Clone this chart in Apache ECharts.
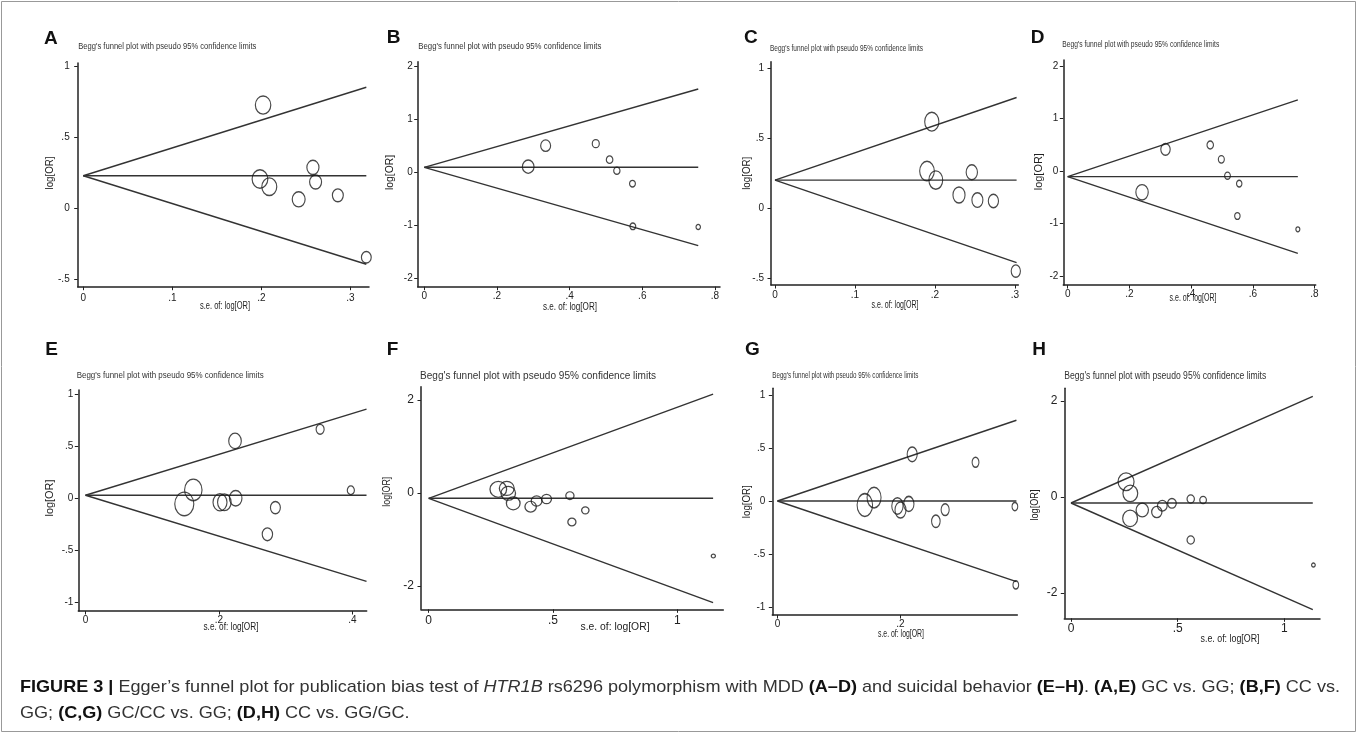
<!DOCTYPE html>
<html><head><meta charset="utf-8">
<script src="https://cdn.jsdelivr.net/npm/echarts/dist/echarts.min.js"></script>
<style>html,body{margin:0;padding:0;background:#fff}#c{width:1358px;height:734px}</style>
</head><body><div id="c"></div>
<script>
// ---------- DATA ----------
const panelLetters = ['A','B','C','D','E','F','G','H'];
// s.e. of log[OR] (x) and log[OR] (y) for each study, per panel
const seA  = [0.202, 0.1985, 0.209, 0.258, 0.261, 0.242, 0.286, 0.318];
const lorA = [0.725, 0.204, 0.150, 0.286, 0.183, 0.061, 0.089, -0.347];
const seB  = [0.286, 0.334, 0.472, 0.510, 0.530, 0.573, 0.574, 0.754];
const lorB = [0.107, 0.503, 0.541, 0.239, 0.031, -0.214, -1.019, -1.031];
const seC  = [0.196, 0.190, 0.201, 0.246, 0.230, 0.253, 0.273, 0.301];
const lorC = [0.619, 0.265, 0.200, 0.256, 0.093, 0.057, 0.050, -0.452];
const seD  = [0.317, 0.241, 0.462, 0.498, 0.518, 0.556, 0.550, 0.746];
const lorD = [0.413, -0.406, 0.495, 0.222, -0.089, -0.241, -0.857, -1.111];
const seE  = [0.224, 0.3515, 0.3975, 0.148, 0.1615, 0.2015, 0.208, 0.225, 0.2845, 0.2725];
const lorE = [0.550, 0.661, 0.077, -0.054, 0.080, -0.038, -0.038, 0.000, -0.089, -0.345];
const seF  = [0.280, 0.314, 0.320, 0.340, 0.410, 0.434, 0.474, 0.568, 0.576, 0.630, 1.145];
const lorF = [0.079, 0.100, -0.007, -0.222, -0.294, -0.172, -0.129, -0.057, -0.624, -0.373, -1.355];
const seG  = [0.219, 0.322, 0.386, 0.3875, 0.142, 0.157, 0.195, 0.200, 0.2135, 0.2726, 0.2575];
const lorG = [0.443, 0.368, -0.050, -0.789, -0.035, 0.035, -0.044, -0.082, -0.025, -0.079, -0.189];
const seH  = [0.258, 0.278, 0.277, 0.334, 0.402, 0.428, 0.473, 0.561, 0.619, 0.561, 1.136];
const lorH = [0.319, 0.076, -0.444, -0.271, -0.3125, -0.181, -0.132, -0.042, -0.0625, -0.896, -1.417];
// pooled log[OR] (horizontal line) and the s.e. where the funnel lines end
const pooledLogOR = [0.227, 0.094, 0.200, -0.108, 0.029, -0.114, 0.003, -0.125];
const funnelEndSe = [0.318, 0.754, 0.302, 0.746, 0.421, 1.144, 0.3885, 1.133];
// tick values
const xTicksA = [0, 0.1, 0.2, 0.3],   yTicksA = [-0.5, 0, 0.5, 1];
const xTicksB = [0, 0.2, 0.4, 0.6, 0.8], yTicksB = [-2, -1, 0, 1, 2];
const xTicksC = [0, 0.1, 0.2, 0.3],   yTicksC = [-0.5, 0, 0.5, 1];
const xTicksD = [0, 0.2, 0.4, 0.6, 0.8], yTicksD = [-2, -1, 0, 1, 2];
const xTicksE = [0, 0.2, 0.4],        yTicksE = [-1, -0.5, 0, 0.5, 1];
const xTicksF = [0, 0.5, 1],          yTicksF = [-2, 0, 2];
const xTicksG = [0, 0.2],             yTicksG = [-1, -0.5, 0, 0.5, 1];
const xTicksH = [0, 0.5, 1],          yTicksH = [-2, 0, 2];
// texts
const panelTitle = "Begg's funnel plot with pseudo 95% confidence limits";
const xAxisTitle = "s.e. of: log[OR]";
const yAxisTitle = "log[OR]";
const captionLine1 = [
  ['b', 'FIGURE 3 | '], ['r', "Egger\u2019s funnel plot for publication bias test of "], ['i', 'HTR1B'],
  ['r', ' rs6296 polymorphism with MDD '], ['b', '(A\u2013D)'], ['r', ' and suicidal behavior '], ['b', '(E\u2013H)'],
  ['r', '. '], ['b', '(A,E)'], ['r', ' GC vs. GG; '], ['b', '(B,F)'], ['r', ' CC vs.']
];
const captionLine2 = [
  ['r', 'GG; '], ['b', '(C,G)'], ['r', ' GC/CC vs. GG; '], ['b', '(D,H)'], ['r', ' CC vs. GG/GC.']
];

const seAll  = [seA, seB, seC, seD, seE, seF, seG, seH];
const lorAll = [lorA, lorB, lorC, lorD, lorE, lorF, lorG, lorH];
const xTicksAll = [xTicksA, xTicksB, xTicksC, xTicksD, xTicksE, xTicksF, xTicksG, xTicksH];
const yTicksAll = [yTicksA, yTicksB, yTicksC, yTicksD, yTicksE, yTicksF, yTicksG, yTicksH];

// ---------- LAYOUT / STYLE ----------
// plot box (L,T,R,B px), pixel of value 0 on x/y and pixels per unit
const layout = [
  {L:77.7,  T:63,    R:369,    B:286.7, x0:83.3,   xu:890,   y0:208,   yu:142},
  {L:417.7, T:61.7,  R:720,    B:286.7, x0:424.3,  xu:363.3, y0:172.3, yu:53},
  {L:771,   T:61.7,  R:1018.3, B:285,   x0:775,    xu:800,   y0:208,   yu:139.5},
  {L:1063.3,T:60,    R:1315.7, B:285,   x0:1067.7, xu:308.5, y0:171,   yu:52.5},
  {L:78.3,  T:390,   R:366.7,  B:611,   x0:85.5,   xu:667.5, y0:498.3, yu:104.4},
  {L:421,   T:386.7, R:723.3,  B:609.3, x0:428.7,  xu:248.6, y0:493,   yu:46.5},
  {L:772.3, T:388.3, R:1017.3, B:615,   x0:777.5,  xu:615,   y0:501.3, yu:106},
  {L:1064.3,T:388.3, R:1320,   B:618.3, x0:1071,   xu:213.4, y0:497,   yu:48}
];
const symK   = [1.56, 1.66, 1.39, 1.49, 1.41, 2.33, 1.10, 2.06];
const symAsp = [0.85, 0.87, 0.75, 0.80, 0.81, 1.05, 0.68, 0.90];
const tickFont = [10, 10, 10, 10, 10, 12, 10, 12];
const xLabelMargin = [6.5, 5, 5, 4.5, 4.5, 5, 4.5, 4.5];
const yLabelMargin = [8, 5, 7, 5, 5, 7, 7, 7];
const narrowPanel = [true, true, true, true, false, false, true, false];
const titlePos = [
  {x:78.3,y:46.7,w:178,s:9.5},{x:418.3,y:46.7,w:183,s:9.5},{x:770,y:48.3,w:153,s:9.5},{x:1062.3,y:44.3,w:157,s:9.5},
  {x:76.7,y:375,w:187,s:9.5},{x:420,y:375.7,w:236,s:10.5},{x:772.3,y:375.7,w:146,s:9.5},{x:1064.3,y:376.7,w:202,s:10}
];
const letterPos = [[50.8,38.3],[393.7,37.8],[750.8,37.8],[1037.5,38],[51.7,350],[392.5,350],[752.3,350],[1039,350]];
const xTitlePos = [[225,306.7,50],[570,307,54],[895,305,47],[1193,298,47],[231,627,55],[615,627,69],[901,634,46],[1230,639,59]];
const yTitlePos = [[50,173,33],[390,172.5,35],[747.3,173.3,33],[1039,171.7,37],[50.7,498,37],[387.3,491.7,30],[747.3,501.7,33],[1035,505,31]];

const SANS = "'Liberation Sans', Arial, Helvetica, sans-serif";
const NARROW = "'Liberation Sans Narrow', 'Arial Narrow', 'Liberation Sans', Arial, sans-serif";
const ELLIPSE = 'path://M0,-1C0.552,-1,1,-0.552,1,0C1,0.552,0.552,1,0,1C-0.552,1,-1,0.552,-1,0C-1,-0.552,-0.552,-1,0,-1Z';

const mctx = document.createElement('canvas').getContext('2d');
function measure(text, size, weight, style) {
  mctx.font = (style || 'normal') + ' ' + (weight || 'normal') + ' ' + size + 'px ' + SANS;
  return mctx.measureText(text).width;
}
function fitText(text, x, y, size, targetW, opt) {
  opt = opt || {};
  const w = measure(text, size, opt.weight, opt.fontStyle);
  return {
    type: 'text', x: x, y: y, rotation: opt.rotation || 0, scaleX: targetW / w, scaleY: 1, silent: true,
    style: { text: text, fontSize: size, fontFamily: SANS, fontWeight: opt.weight || 'normal',
      fontStyle: opt.fontStyle || 'normal', fill: opt.fill || '#222',
      align: opt.align || 'center', verticalAlign: 'middle', textAlign: opt.align || 'center', textVerticalAlign: 'middle' }
  };
}
const fmt = v => String(v).replace(/^(-?)0\./, '$1.');

const grids = [], xAxes = [], yAxes = [], series = [], graphics = [];
layout.forEach((g, i) => {
  grids.push({ left: g.L, top: g.T, width: g.R - g.L, height: g.B - g.T, containLabel: false });
  const fam = narrowPanel[i] ? NARROW : SANS;
  const common = (ticks, margin) => ({
    type: 'value', gridIndex: i, splitLine: { show: false },
    axisLine: { show: true, onZero: false, lineStyle: { color: '#222', width: 1.5 } },
    axisTick: { show: true, customValues: ticks, length: 3.5, lineStyle: { color: '#222', width: 1 } },
    axisLabel: { show: true, customValues: ticks, formatter: fmt, fontSize: tickFont[i], fontFamily: fam, color: '#222', margin: margin }
  });
  xAxes.push(Object.assign(common(xTicksAll[i], xLabelMargin[i]), { min: (g.L - g.x0) / g.xu, max: (g.R - g.x0) / g.xu }));
  yAxes.push(Object.assign(common(yTicksAll[i], yLabelMargin[i]), { min: (g.y0 - g.B) / g.yu, max: (g.y0 - g.T) / g.yu }));

  const p = pooledLogOR[i], e = funnelEndSe[i];
  const lineStyle = { color: '#333', width: 1.4 };
  [[[0, p], [e, p]], [[0, p], [e, p + 1.96 * e]], [[0, p], [e, p - 1.96 * e]]].forEach(d => {
    series.push({ type: 'line', xAxisIndex: i, yAxisIndex: i, data: d, symbol: 'none', lineStyle: lineStyle, silent: true, z: 2 });
  });
  const k = symK[i], asp = symAsp[i];
  series.push({
    type: 'scatter', xAxisIndex: i, yAxisIndex: i, z: 3, silent: true,
    data: seAll[i].map((s, j) => [s, lorAll[i][j]]),
    symbol: ELLIPSE,
    symbolSize: v => { const w = 2 * k / v[0]; return [w, w / asp]; },
    itemStyle: { color: 'rgba(0,0,0,0)', borderColor: '#1a1a1a', borderWidth: 1.25 }
  });

  const t = titlePos[i];
  graphics.push(fitText(panelTitle, t.x, t.y, t.s, t.w, { align: 'left', fill: '#333' }));
  graphics.push({ type: 'text', x: letterPos[i][0], y: letterPos[i][1], silent: true,
    style: { text: panelLetters[i], fontSize: 19, fontWeight: 'bold', fontFamily: SANS, fill: '#111',
      align: 'center', verticalAlign: 'middle', textAlign: 'center', textVerticalAlign: 'middle' } });
  const xt = xTitlePos[i];
  graphics.push(fitText(xAxisTitle, xt[0], xt[1], 10, xt[2], { fill: '#222' }));
  const yt = yTitlePos[i];
  graphics.push(fitText(yAxisTitle, yt[0], yt[1], 10, yt[2], { rotation: Math.PI / 2, fill: '#222' }));
});

// caption
function segFont(kind) {
  return { weight: kind === 'b' ? 'bold' : 'normal', fontStyle: kind === 'i' ? 'italic' : 'normal', fill: kind === 'b' ? '#111' : '#333' };
}
const capSize = 17;
const line1W = captionLine1.reduce((a, s) => { const f = segFont(s[0]); return a + measure(s[1], capSize, f.weight, f.fontStyle); }, 0);
const capScale = (1340 - 20) / line1W;
function placeLine(segs, y) {
  let x = 20;
  segs.forEach(s => {
    const f = segFont(s[0]);
    const w = measure(s[1], capSize, f.weight, f.fontStyle);
    graphics.push({ type: 'text', x: x, y: y, scaleX: capScale, silent: true,
      style: { text: s[1], fontSize: capSize, fontFamily: SANS, fontWeight: f.weight, fontStyle: f.fontStyle, fill: f.fill,
        align: 'left', verticalAlign: 'middle', textAlign: 'left', textVerticalAlign: 'middle' } });
    x += w * capScale;
  });
}
placeLine(captionLine1, 687);
placeLine(captionLine2, 713);

// outer frame
graphics.push({ type: 'rect', silent: true, shape: { x: 1.5, y: 1.5, width: 1354, height: 730 },
  style: { fill: 'none', stroke: '#999', lineWidth: 1 }, z: -1 });

const chart = echarts.init(document.getElementById('c'), null, { renderer: 'canvas' });
chart.setOption({
  animation: false, backgroundColor: '#fff',
  grid: grids, xAxis: xAxes, yAxis: yAxes, series: series, graphic: graphics
});
</script></body></html>
